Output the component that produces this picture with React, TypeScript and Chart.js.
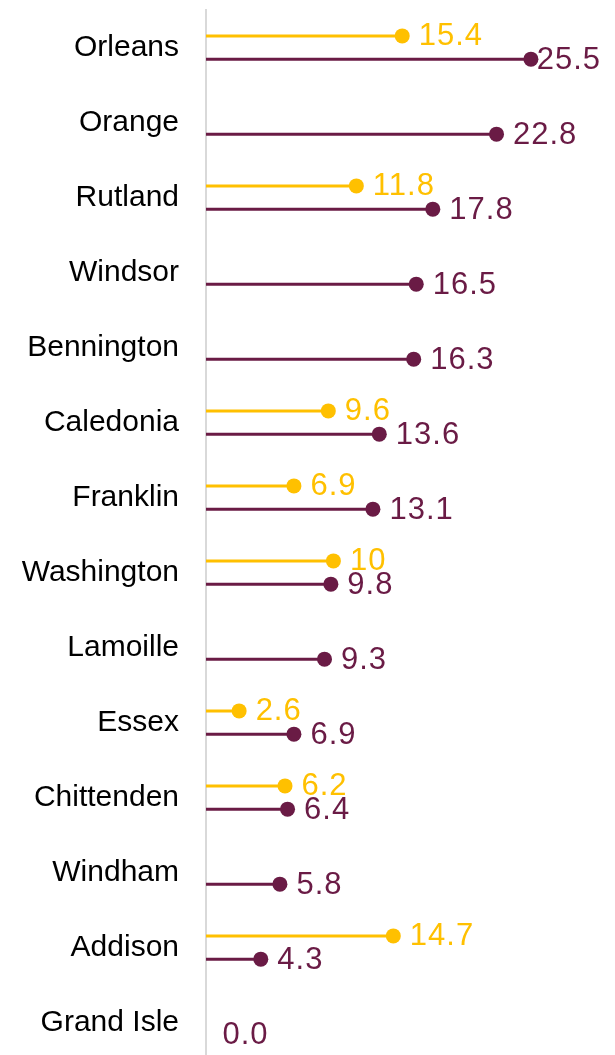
import React, { useEffect, useRef } from "react";
import { Chart, registerables } from "chart.js";

Chart.register(...registerables);

const categories = [
  "Orleans", "Orange", "Rutland", "Windsor", "Bennington", "Caledonia", "Franklin",
  "Washington", "Lamoille", "Essex", "Chittenden", "Windham", "Addison", "Grand Isle",
];
const goldValues: (number | null)[] = [15.4, null, 11.8, null, null, 9.6, 6.9, 10, null, 2.6, 6.2, null, 14.7, null];
const goldLabels: (string | null)[] = ["15.4", null, "11.8", null, null, "9.6", "6.9", "10", null, "2.6", "6.2", null, "14.7", null];
const maroonValues: number[] = [25.5, 22.8, 17.8, 16.5, 16.3, 13.6, 13.1, 9.8, 9.3, 6.9, 6.4, 5.8, 4.3, 0.0];
const maroonLabels: string[] = ["25.5", "22.8", "17.8", "16.5", "16.3", "13.6", "13.1", "9.8", "9.3", "6.9", "6.4", "5.8", "4.3", "0.0"];

const GOLD = "#FFC000";
const MAROON = "#6A1B45";

const lollipopPlugin = {
  id: "lollipop",
  afterDatasetsDraw(chart: any) {
    const ctx = chart.ctx;
    const labelSets = [goldLabels, maroonLabels];
    const colors = [GOLD, MAROON];
    const valueSets = [goldValues, maroonValues];
    ctx.save();
    ctx.font = "31px 'Liberation Sans', Arial, sans-serif";
    try { (ctx as any).letterSpacing = "1px"; } catch (e) {}
    ctx.textBaseline = "middle";
    ctx.textAlign = "left";
    chart.data.datasets.forEach((_ds: any, di: number) => {
      const meta = chart.getDatasetMeta(di);
      meta.data.forEach((el: any, i: number) => {
        const v = valueSets[di][i];
        if (v === null || v === undefined) return;
        const x = el.x;
        const y = el.y;
        ctx.fillStyle = colors[di];
        if (v !== 0) {
          ctx.beginPath();
          ctx.arc(x, y, 7.5, 0, Math.PI * 2);
          ctx.fill();
        }
        const txt = labelSets[di][i];
        if (txt) {
          const w = ctx.measureText(txt).width;
          let tx = x + 16.5;
          if (tx + w > 601) tx = 601 - w;
          ctx.fillText(txt, tx, y + 1);
        }
      });
    });
    ctx.restore();
  },
};

export default function App() {
  const ref = useRef<HTMLCanvasElement>(null);
  useEffect(() => {
    if (!ref.current) return;
    const chart = new Chart(ref.current, {
      type: "bar",
      data: {
        labels: categories,
        datasets: [
          {
            label: "Series 1",
            data: goldValues,
            backgroundColor: GOLD,
            borderWidth: 0,
            maxBarThickness: 3,
            categoryPercentage: 0.62,
            barPercentage: 1,
          },
          {
            label: "Series 2",
            data: maroonValues,
            backgroundColor: MAROON,
            borderWidth: 0,
            maxBarThickness: 3,
            categoryPercentage: 0.62,
            barPercentage: 1,
          },
        ],
      },
      options: {
        indexAxis: "y",
        animation: false,
        responsive: true,
        maintainAspectRatio: false,
        layout: { padding: { top: 10, bottom: 0, right: 14, left: 0 } },
        plugins: { legend: { display: false }, tooltip: { enabled: false } },
        scales: {
          x: { display: false, min: 0, max: 31 },
          y: {
            type: "category",
            grid: { display: false, drawTicks: false },
            border: { display: true, color: "#D9D9D9", width: 2 },
            ticks: {
              padding: 27,
              color: "#000000",
              font: { family: "'Liberation Sans', Arial, sans-serif", size: 30 },
            },
            afterFit: (scale: any) => {
              scale.width = 206;
              scale.paddingTop = 0;
              scale.paddingBottom = 0;
            },
          },
        },
      },
      plugins: [lollipopPlugin],
    });
    return () => chart.destroy();
  }, []);
  return (
    <div style={{ position: "absolute", left: 0, top: 0, width: 615, height: 1060 }}>
      <canvas ref={ref} />
    </div>
  );
}
